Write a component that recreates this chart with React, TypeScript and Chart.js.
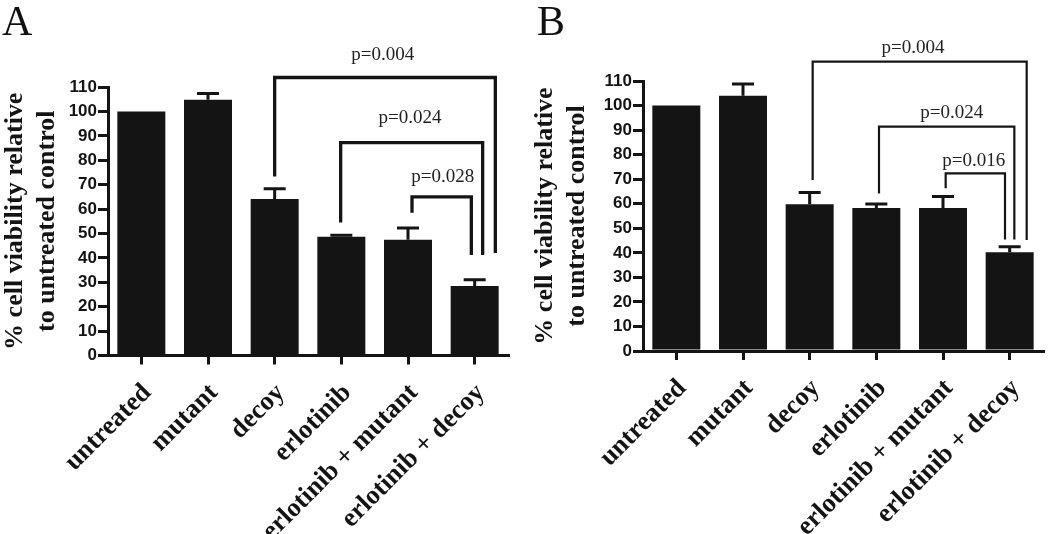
import { useEffect, useRef } from 'react';
import { Chart, registerables } from 'chart.js';

Chart.register(...registerables);

// ---------- data ----------
const categories = ['untreated', 'mutant', 'decoy', 'erlotinib', 'erlotinib + mutant', 'erlotinib + decoy'];
const yTickValues = [0, 10, 20, 30, 40, 50, 60, 70, 80, 90, 100, 110];

const valuesA = [100, 104.8, 64.1, 48.7, 47.4, 28.5];
const errorsA = [0, 2.5, 4.2, 0.6, 4.8, 2.5];

const valuesB = [100, 104.0, 59.8, 58.3, 58.3, 40.2];
const errorsB = [0, 4.8, 4.8, 1.6, 4.6, 2.3];

const pLabelsA = ['p=0.004', 'p=0.024', 'p=0.028'];
const pLabelsB = ['p=0.004', 'p=0.024', 'p=0.016'];

// comparison brackets: category positions and value heights
const bracketFromA = [2.0, 2.99, 4.06];
const bracketToA = [5.31, 5.12, 4.95];
const bracketTopA = [113.9, 87.2, 65.0];
const bracketFromEndA = [73.3, 54.5, 58.5];
const bracketToEndA = [42.0, 41.2, 41.2];
const labelXA = [3.62, 4.03, 4.52];
const labelYA = [123.3, 97.4, 73.2];

const bracketFromB = [2.045, 3.04, 4.04];
const bracketToB = [5.255, 5.07, 4.93];
const bracketTopB = [117.9, 91.4, 72.4];
const bracketFromEndB = [69.7, 64.2, 66.3];
const bracketToEndB = [45.2, 45.4, 45.4];
const labelXB = [3.55, 4.13, 4.46];
const labelYB = [123.4, 97.0, 77.4];

const yTitle = ['% cell viability relative', 'to untreated control'];

const INK = '#141414';
const SERIF = '"Liberation Serif", "Times New Roman", serif';
const SANS = '"Liberation Sans", Arial, sans-serif';

type PanelProps = {
  letter: string;
  left: number;
  width: number;
  values: number[];
  errors: number[];
  labels: string[];
  from: number[];
  to: number[];
  top: number[];
  fromEnd: number[];
  toEnd: number[];
  lx: number[];
  ly: number[];
  bracketWidth: number;
  yAxisWidth: number;
  areaTop: number;
  areaBottom: number;
  rightPad: number;
  letterX: number;
};

function Panel(p: PanelProps) {
  const ref = useRef<HTMLCanvasElement>(null);
  useEffect(() => {
    const overlay = {
      id: 'overlay' + p.letter,
      afterDatasetsDraw(chart: any) {
        const ctx = chart.ctx;
        const ys = chart.scales.y;
        const meta = chart.getDatasetMeta(0);
        ctx.save();
        ctx.strokeStyle = INK;
        ctx.lineWidth = 3;
        ctx.lineCap = 'butt';
        p.values.forEach((v, i) => {
          const e = p.errors[i];
          if (!e) return;
          const x = meta.data[i].x;
          const y0 = ys.getPixelForValue(v);
          const y1 = ys.getPixelForValue(v + e);
          ctx.beginPath();
          ctx.moveTo(x, y0);
          ctx.lineTo(x, y1);
          ctx.moveTo(x - 11, y1);
          ctx.lineTo(x + 11, y1);
          ctx.stroke();
        });
        ctx.restore();
      },
      afterDraw(chart: any) {
        const ctx = chart.ctx;
        const xs = chart.scales.x;
        const ys = chart.scales.y;
        ctx.save();
        ctx.strokeStyle = INK;
        ctx.lineWidth = p.bracketWidth;
        ctx.lineJoin = 'miter';
        ctx.lineCap = 'butt';
        p.labels.forEach((lab, i) => {
          const x1 = xs.getPixelForValue(p.from[i]);
          const x2 = xs.getPixelForValue(p.to[i]);
          const yt = ys.getPixelForValue(p.top[i]);
          ctx.beginPath();
          ctx.moveTo(x1, ys.getPixelForValue(p.fromEnd[i]));
          ctx.lineTo(x1, yt);
          ctx.lineTo(x2, yt);
          ctx.lineTo(x2, ys.getPixelForValue(p.toEnd[i]));
          ctx.stroke();
          ctx.fillStyle = '#222';
          ctx.font = '19px ' + SERIF;
          ctx.textAlign = 'center';
          ctx.textBaseline = 'middle';
          ctx.fillText(lab, xs.getPixelForValue(p.lx[i]), ys.getPixelForValue(p.ly[i]));
        });
        ctx.fillStyle = '#111';
        ctx.font = '42px ' + SERIF;
        ctx.textAlign = 'left';
        ctx.textBaseline = 'alphabetic';
        ctx.fillText(p.letter, p.letterX, 35);
        ctx.restore();
      },
    };

    const chart = new Chart(ref.current as HTMLCanvasElement, {
      type: 'bar',
      data: {
        labels: categories,
        datasets: [
          {
            data: p.values,
            backgroundColor: INK,
            borderWidth: 0,
            barPercentage: 0.72,
            categoryPercentage: 1,
          },
        ],
      },
      options: {
        animation: false,
        responsive: false,
        layout: { padding: { left: 0, top: p.areaTop, right: p.rightPad, bottom: 0 } },
        plugins: { legend: { display: false }, tooltip: { enabled: false } },
        scales: {
          x: {
            type: 'category',
            offset: true,
            grid: { offset: false, drawOnChartArea: false, drawTicks: true, tickLength: 9, color: INK, lineWidth: 3 },
            border: { color: INK, width: 3 },
            ticks: {
              autoSkip: false,
              minRotation: 45,
              maxRotation: 45,
              color: INK,
              padding: 13,
              labelOffset: 6,
              font: { family: SERIF, size: 26.5, weight: 'bold' },
            },
            afterFit: (s: any) => {
              s.height = 534 - p.areaBottom;
            },
          },
          y: {
            min: 0,
            max: 110,
            afterBuildTicks: (s: any) => {
              s.ticks = yTickValues.map((v) => ({ value: v }));
            },
            ticks: { color: INK, padding: 1, font: { family: SANS, size: 17, weight: 'bold' } },
            grid: { drawOnChartArea: false, drawTicks: true, tickLength: 10, color: INK, lineWidth: 3 },
            border: { color: INK, width: 3 },
            title: {
              display: true,
              text: yTitle,
              color: INK,
              padding: { top: 0, bottom: 0 },
              font: { family: SERIF, size: 26, weight: 'bold', lineHeight: 1.2 },
            },
            afterFit: (s: any) => {
              s.width = p.yAxisWidth;
            },
          },
        },
      } as any,
      plugins: [overlay],
    });
    return () => chart.destroy();
  }, []);
  return (
    <canvas
      ref={ref}
      width={p.width}
      height={534}
      style={{ position: 'absolute', left: p.left, top: 0, width: p.width, height: 534 }}
    />
  );
}

export default function App() {
  return (
    <div style={{ position: 'absolute', left: 0, top: 0, width: 1050, height: 534, background: '#fff', overflow: 'hidden' }}>
      <Panel
        letter="A"
        left={0}
        width={525}
        values={valuesA}
        errors={errorsA}
        labels={pLabelsA}
        from={bracketFromA}
        to={bracketToA}
        top={bracketTopA}
        fromEnd={bracketFromEndA}
        toEnd={bracketToEndA}
        lx={labelXA}
        ly={labelYA}
        bracketWidth={3.3}
        yAxisWidth={108}
        areaTop={87}
        areaBottom={355.5}
        rightPad={17}
        letterX={2}
      />
      <Panel
        letter="B"
        left={530}
        width={520}
        values={valuesB}
        errors={errorsB}
        labels={pLabelsB}
        from={bracketFromB}
        to={bracketToB}
        top={bracketTopB}
        fromEnd={bracketFromEndB}
        toEnd={bracketToEndB}
        lx={labelXB}
        ly={labelYB}
        bracketWidth={2.2}
        yAxisWidth={113}
        areaTop={81}
        areaBottom={351}
        rightPad={7}
        letterX={7}
      />
    </div>
  );
}
